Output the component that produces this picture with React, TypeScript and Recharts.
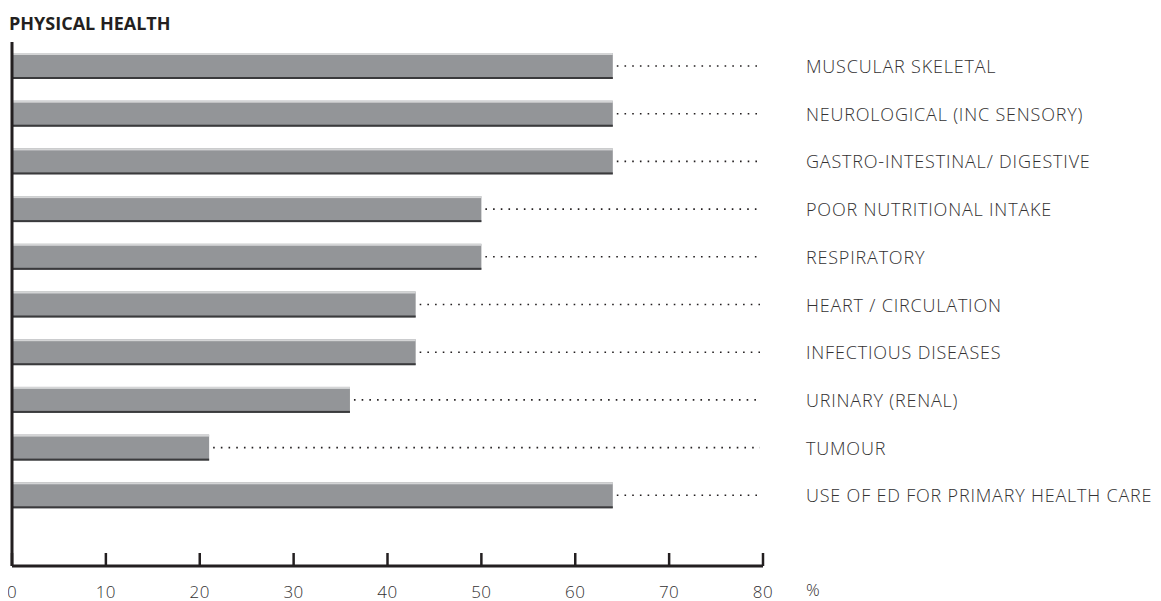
import React from "react";
import { BarChart, Bar, XAxis, YAxis, LabelList } from "recharts";

const categories = [
  "MUSCULAR SKELETAL",
  "NEUROLOGICAL (INC SENSORY)",
  "GASTRO-INTESTINAL/ DIGESTIVE",
  "POOR NUTRITIONAL INTAKE",
  "RESPIRATORY",
  "HEART / CIRCULATION",
  "INFECTIOUS DISEASES",
  "URINARY (RENAL)",
  "TUMOUR",
  "USE OF ED FOR PRIMARY HEALTH CARE",
];
const percentages = [64, 64, 64, 50, 50, 43, 43, 36, 21, 64];
const xTicks = [0, 10, 20, 30, 40, 50, 60, 70, 80];

const data = categories.map((name, i) => ({ name, value: percentages[i] }));

const INK = "#231f20";
const TEXT = "#333132";
const FONT = "'Open Sans', 'Liberation Sans', sans-serif";

// bar with light top edge, dark bottom edge and dotted leader to the 80 line
function ShadedBar(props: any) {
  const { x, y, width, height, background } = props;
  if (width == null || height == null) return null;
  const end = x + width;
  const right = background ? background.x + background.width - 3 : 752;
  const cy = y + height / 2;
  return (
    <g>
      <rect x={x} y={y} width={width} height={height} fill="#939598" />
      <rect x={x} y={y} width={width} height={2} fill="#d4d5d6" />
      <rect x={x} y={y + height - 2} width={width} height={2} fill="#3a3a3c" />
      <line
        x1={end + 4}
        x2={right}
        y1={cy}
        y2={cy}
        stroke={INK}
        strokeWidth={1.6}
        strokeDasharray="1.6 6.1"
      />
    </g>
  );
}

function RowLabel(props: any) {
  const { y, height, value } = props;
  return (
    <text
      x={798}
      y={y + height / 2}
      dominantBaseline="central"
      fill={TEXT}
      fontFamily={FONT}
      fontWeight={300}
      fontSize={18}
      letterSpacing={0.8}
    >
      {value}
    </text>
  );
}

function BottomTick(props: any) {
  const { x, y, payload } = props;
  return (
    <g>
      <line x1={x} x2={x} y1={y} y2={y - 13} stroke={INK} strokeWidth={2.5} />
      <text
        x={x}
        y={y + 25}
        textAnchor="middle"
        dominantBaseline="central"
        fill={TEXT}
        fontFamily={FONT}
        fontWeight={300}
        fontSize={17}
        letterSpacing={0.5}
      >
        {payload.value}
      </text>
    </g>
  );
}

export default function App() {
  return (
    <div style={{ position: "relative", width: 1153, height: 593 }}>
      <div
        style={{
          position: "absolute",
          left: 1,
          top: 3,
          fontFamily: FONT,
          fontWeight: 700,
          fontSize: 18,
          color: INK,
          letterSpacing: 0,
        }}
      >
        PHYSICAL HEALTH
      </div>
      <div
        style={{
          position: "absolute",
          left: 798,
          top: 570,
          fontFamily: FONT,
          fontWeight: 300,
          fontSize: 17,
          color: TEXT,
        }}
      >
        %
      </div>
      <BarChart
        width={1153}
        height={593}
        data={data}
        layout="vertical"
        margin={{ top: 34, right: 398, left: 0, bottom: 0 }}
      >
        <XAxis
          type="number"
          domain={[0, 80]}
          ticks={xTicks}
          height={35}
          tickSize={0}
          tickMargin={0}
          tickLine={false}
          axisLine={{ stroke: INK, strokeWidth: 3 }}
          tick={<BottomTick />}
        />
        <YAxis
          type="category"
          dataKey="name"
          width={4}
          tick={false}
          tickLine={false}
          padding={{ top: 0, bottom: 47 }}
          axisLine={{ stroke: INK, strokeWidth: 3 }}
        />
        <Bar
          dataKey="value"
          barSize={26}
          shape={<ShadedBar />}
          isAnimationActive={false}
        >
          <LabelList dataKey="name" content={<RowLabel />} />
        </Bar>
      </BarChart>
    </div>
  );
}
